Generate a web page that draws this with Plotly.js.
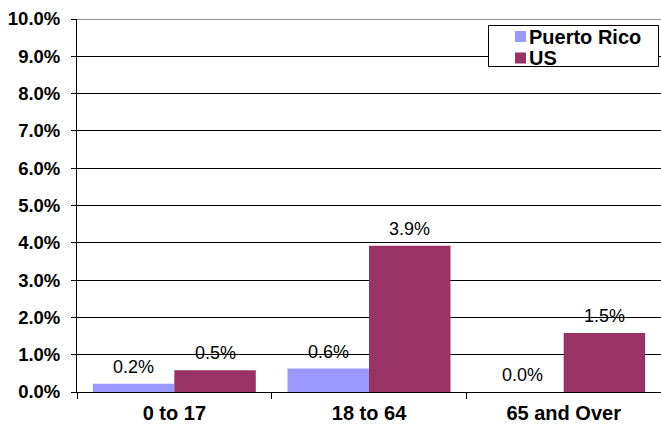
<!DOCTYPE html>
<html>
<head>
<meta charset="utf-8">
<script src="https://cdn.plot.ly/plotly-3.0.1.min.js"></script>
<style>html,body{margin:0;padding:0;background:#fff;}#chart{width:661px;height:429px;}</style>
</head>
<body>
<div id="chart"></div>
<script>
const categories = ['0 to 17', '18 to 64', '65 and Over'];
const seriesNames = ['Puerto Rico', 'US'];
const prValues = [0.22, 0.63, 0.0];
const usValues = [0.58, 3.92, 1.58];
const prLabels = ['0.2%', '0.6%', '0.0%'];
const usLabels = ['0.5%', '3.9%', '1.5%'];
const yTickVals = [0, 1, 2, 3, 4, 5, 6, 7, 8, 9, 10];
const yTickText = ['0.0%', '1.0%', '2.0%', '3.0%', '4.0%', '5.0%', '6.0%', '7.0%', '8.0%', '9.0%', '10.0%'];

const FONT = 'Arial, "Liberation Sans", sans-serif';
const colors = ['#9999FF', '#993366'];

const traces = [
  {type: 'bar', name: seriesNames[0], x: categories, y: prValues,
   marker: {color: colors[0], line: {width: 0}}, hoverinfo: 'none'},
  {type: 'bar', name: seriesNames[1], x: categories, y: usValues,
   marker: {color: colors[1], line: {width: 0}}, hoverinfo: 'none'}
];

const annotations = [];
const groups = [[prValues, prLabels, -40.8], [usValues, usLabels, 40.8]];
groups.forEach(([vals, labs, dx]) => {
  vals.forEach((v, i) => {
    annotations.push({
      x: categories[i], y: v, xref: 'x', yref: 'y', text: labs[i],
      showarrow: false, xshift: dx, yshift: 17, yanchor: 'middle', xanchor: 'center',
      font: {family: FONT, size: 18, color: '#000'}
    });
  });
});

// Plot area geometry in pixels (for the hand-drawn legend box)
const PL = 77, PW = 584, PB = 392, PH = 373;
const px = v => (v - PL) / PW;
const py = v => (PB - v) / PH;

const shapes = [
  {type: 'line', xref: 'paper', yref: 'y', x0: 0, x1: 1, y0: 10, y1: 10,
   line: {color: '#8c8c8c', width: 2}, layer: 'above'},
  {type: 'rect', xref: 'paper', yref: 'paper', x0: px(488.5), x1: px(658.5), y0: py(66.5), y1: py(25.5),
   line: {color: '#000', width: 1}, fillcolor: '#fff', layer: 'above'}
];
const rowY = [36.5, 58];
seriesNames.forEach((name, i) => {
  shapes.push({type: 'rect', xref: 'paper', yref: 'paper',
    x0: px(515), x1: px(526), y0: py(rowY[i] + 5.5), y1: py(rowY[i] - 5.5),
    line: {width: 0}, fillcolor: colors[i], layer: 'above'});
  annotations.push({xref: 'paper', yref: 'paper', x: px(527), y: py(rowY[i]),
    xanchor: 'left', yanchor: 'middle', showarrow: false, text: name,
    font: {family: FONT, size: 20, color: '#000', weight: 'bold'}});
});

const layout = {
  width: 661, height: 429,
  margin: {l: 77, r: 0, t: 19, b: 37, pad: 0},
  paper_bgcolor: '#fff', plot_bgcolor: '#fff',
  font: {family: FONT, size: 18, color: '#000'},
  barmode: 'group', bargap: 0.163, bargroupgap: 0,
  showlegend: false,
  xaxis: {
    type: 'category', showline: true, linecolor: '#000', linewidth: 1,
    ticks: 'outside', tickson: 'boundaries', ticklen: 6, tickcolor: '#000', tickwidth: 1,
    tickfont: {family: FONT, size: 20, color: '#000', weight: 'bold'},
    ticklabelstandoff: 3, showgrid: false, zeroline: false, fixedrange: true
  },
  yaxis: {
    range: [0, 10], tickvals: yTickVals, ticktext: yTickText,
    showline: true, linecolor: '#000', linewidth: 1,
    ticks: 'outside', ticklen: 5, tickcolor: '#000', tickwidth: 1,
    tickfont: {family: FONT, size: 18.5, color: '#000', weight: 'bold'},
    ticklabelstandoff: 7,
    showgrid: true, gridcolor: '#000', gridwidth: 1, zeroline: false, fixedrange: true
  },
  shapes: shapes,
  annotations: annotations
};

Plotly.newPlot('chart', traces, layout, {displayModeBar: false, staticPlot: true});
</script>
</body>
</html>
